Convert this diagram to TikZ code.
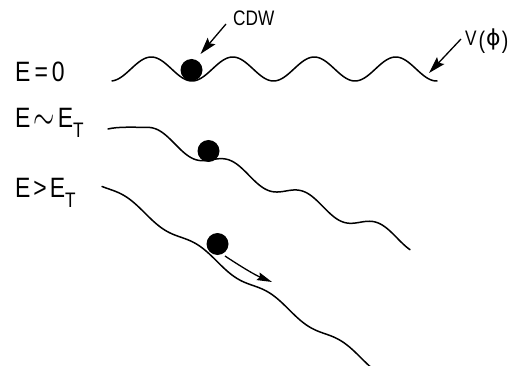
\documentclass[tikz,border=0pt]{standalone}
\usepackage{graphicx}
\usepackage{fontspec}
\setmainfont{Liberation Sans}[FakeStretch=0.82]
\newfontfamily\greekfont{DejaVu Sans}
\usetikzlibrary{arrows.meta}
\begin{document}
\begin{tikzpicture}[x=1pt,y=-1pt,
  curve/.style={line width=1.5pt, line cap=round, line join=round},
  ball/.style={circle, fill=black, minimum size=22pt, inner sep=0pt},
  lbl/.style={anchor=base west, inner sep=0pt, font=\fontsize{28}{28}\selectfont},
  small/.style={anchor=base west, inner sep=0pt, font=\fontsize{21}{21}\selectfont},
  pointer/.style={line width=1.3pt, -{Stealth[length=17pt,width=10pt,inset=3pt]}},
  mover/.style={line width=1.3pt, -{Stealth[length=15pt,width=8pt,inset=2pt]}}
]
\useasboundingbox (0,0) rectangle (524,366);
% labels
\node[lbl] (e0) at (15,82) {E\hspace{4pt}=\hspace{4pt}0};
\node[lbl] (e1) at (15,128) {E\hspace{3pt}\raisebox{-1.5pt}{\scalebox{1.1}[1.6]{$\sim$}}\hspace{3pt}E\raisebox{-10pt}{\fontsize{21}{21}\selectfont T}};
\node[lbl] (e2) at (15,197) {E\hspace{3pt}>\hspace{3pt}E\raisebox{-10pt}{\fontsize{21}{21}\selectfont T}};
\node[small] (cdw) at (233,26) {CDW};
\node[anchor=base west, inner sep=0pt, font=\fontsize{21}{21}\selectfont] (vphi) at (465,46)
  {V\hspace{2pt}\raisebox{-3pt}{\fontsize{24}{24}\selectfont(}\hspace{1pt}{\greekfont\fontsize{22}{22}\selectfont ϕ}\hspace{1pt}\raisebox{-3pt}{\fontsize{24}{24}\selectfont)}};
% potentials
\draw[curve] plot[domain=112:437, samples=160] (\x, {69+12*cos(360/81.5*(\x-192))});
\draw[curve] (108,129) .. controls (118,126.5) and (134,127.35) .. (146,127.35)
  -- plot[domain=146:410, samples=150] (\x, {70+0.423*\x-7*sin(360/74*(\x-212))});
\draw[curve] plot[domain=102:370, samples=150] (\x, {116+0.67*\x-3.7*sin(5*(\x-181))});
% balls
\node[ball] (b1) at (191.5,70) {};
\node[ball] (b2) at (208.5,151) {};
\node[ball] (b3) at (217.5,244) {};
% arrows
\coordinate (cdwtail) at (226,24);
\coordinate (cdwtip) at (200.5,54);
\draw[pointer] (cdwtail) -- (cdwtip);
\coordinate (vtail) at (461,39);
\coordinate (vtip) at (429,73);
\draw[pointer] (vtail) -- (vtip);
\coordinate (mstart) at (225,256);
\coordinate (mend) at (272,282);
\draw[mover] (mstart) .. controls (240,266) and (255,275) .. (mend);
\end{tikzpicture}
\end{document}
